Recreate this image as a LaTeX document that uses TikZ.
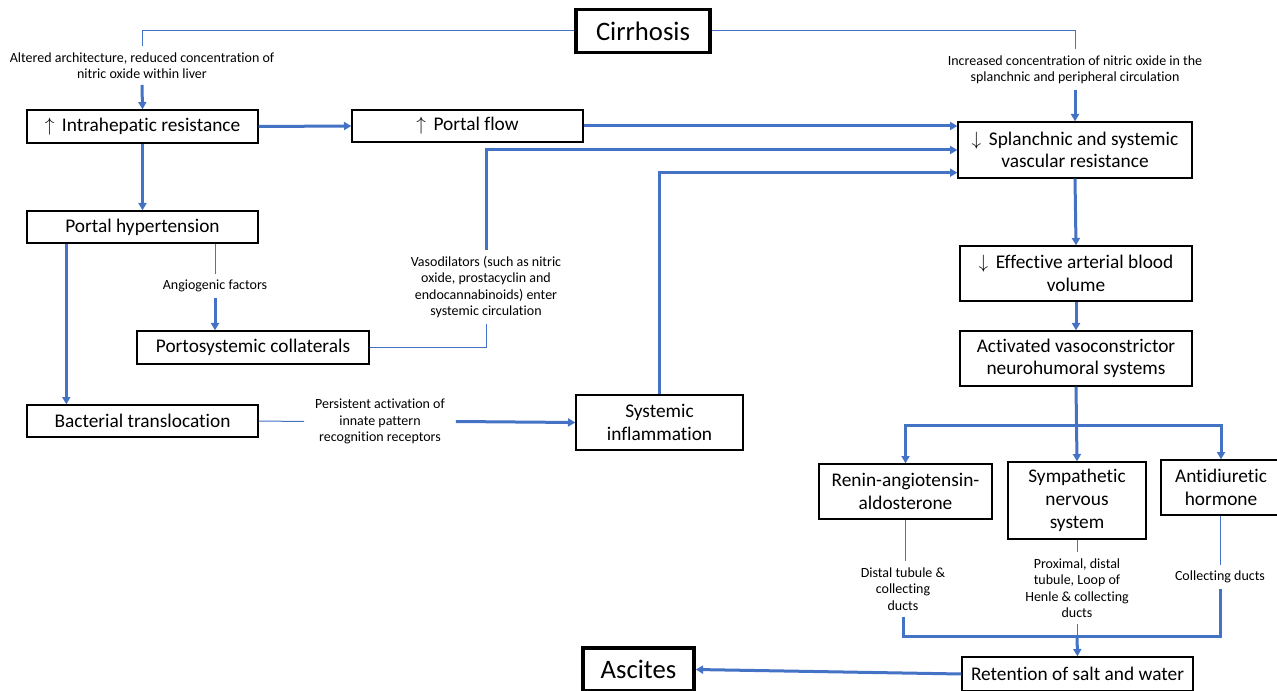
\documentclass[tikz,border=0pt]{standalone}
\usepackage{fontspec}
\setmainfont[Ligatures=NoCommon]{Carlito}
\usetikzlibrary{arrows.meta}
\definecolor{lineblue}{HTML}{4472C4}

\begin{document}
\begin{tikzpicture}[x=0.75pt, y=-0.75pt,
    box/.style 2 args={draw, line width=1pt, align=center, inner sep=0pt,
        minimum width=#1*0.75pt, minimum height=#2*0.75pt,
        font=\fontsize{14.5}{17}\selectfont},
    mainbox/.style 2 args={draw, line width=2.6pt, inner sep=0pt,
        minimum width=#1*0.75pt, minimum height=#2*0.75pt,
        font=\fontsize{20}{24}\selectfont},
    note/.style={align=center, inner sep=4.5pt, font=\fontsize{10.5}{12.3}\selectfont},
    link/.style={lineblue, line width=0.75pt},
    flow/.style={lineblue, line width=2.25pt, -{Triangle[length=5.5pt,width=6pt]}},
]
    \useasboundingbox (0,0) rectangle (1277,691);

    % Главные узлы
    \node[mainbox={134}{43}] (cirr) at (643,31) {Cirrhosis};
    \node[mainbox={111}{43}] (asc) at (638.5,669.5) {Ascites};

    % Левая ветвь
    \node[box={231}{33}] (intra) at (142.5,126.5) {$\uparrow$\, Intrahepatic resistance};
    \node[box={231}{32}] (portal) at (467.5,126) {$\uparrow$\, Portal flow};
    \node[box={231}{32}] (porthyp) at (142.5,227) {Portal hypertension};
    \node[box={232}{33}] (porto) at (253,347.5) {Portosystemic collaterals};
    \node[box={231}{32}] (bact) at (142.5,421) {Bacterial translocation};
    \node[box={167}{55}] (sysinf) at (659.5,422.5) {Systemic\\inflammation};

    % Правая ветвь
    \node[box={234}{56}] (splanch) at (1075,150) {$\downarrow$\, Splanchnic and systemic\\vascular resistance};
    \node[box={232}{55}] (eabv) at (1076,273.5) {$\downarrow$\, Effective arterial blood\\volume};
    \node[box={232}{55}] (avns) at (1076,358.5) {Activated vasoconstrictor\\neurohumoral systems};
    \node[box={173}{55}] (raa) at (905.5,491.5) {Renin-angiotensin-\\aldosterone};
    \node[box={138}{77}] (sns) at (1077,500.5) {Sympathetic\\nervous\\system};
    \node[box={120}{55}] (adh) at (1221,487.5) {Antidiuretic\\hormone};
    \node[box={231}{34}] (ret) at (1077.5,674) {Retention of salt and water};

    % Подписи
    \node[note] (lblA) at (142,65.5) {Altered architecture, reduced concentration of\\nitric oxide within liver};
    \node[note] (lblB) at (1075,69.5) {Increased concentration of nitric oxide in the\\splanchnic and peripheral circulation};
    \node[note] (lblAng) at (215,286) {Angiogenic factors};
    \node[note] (lblV) at (486,287) {Vasodilators (such as nitric\\oxide, prostacyclin and\\endocannabinoids) enter\\systemic circulation};
    \node[note, inner xsep=8pt] (lblP) at (380,421.5) {Persistent activation of\\innate pattern\\recognition receptors};
    \node[note] (lblD) at (903,589) {Distal tubule \&\\collecting\\ducts};
    \node[note] (lblS) at (1077,588) {Proximal, distal\\tubule, Loop of\\Henle \& collecting\\ducts};
    \node[note] (lblC) at (1220,577) {Collecting ducts};

    \coordinate (split) at (1076,425);
    \coordinate (join) at (1077,636);

    % Связи
    \draw[link] (cirr.west) -| (lblA.north);
    \draw[flow] (lblA.south) -- (intra.north);
    \draw[link] (cirr.east) -| (lblB.north);
    \draw[flow] (lblB.south) -- (splanch.north);

    \draw[flow] (intra.east) -- (portal.west);
    \draw[flow] (portal.east) -- (portal.east -| splanch.west);
    \draw[flow] (intra.south) -- (porthyp.north);
    \draw[link] (lblAng.north |- porthyp.south) -- (lblAng.north);
    \draw[flow] (lblAng.south) -- (lblAng.south |- porto.north);
    \draw[flow] ([xshift=30pt]porthyp.south west) -- ([xshift=30pt]bact.north west);

    \draw[link] (porto.east) -| (lblV.south);
    \draw[flow] (lblV.north) |- (splanch.west);
    \draw[link] (bact.east) -- (lblP.west);
    \draw[flow] (lblP.east) -- (sysinf.west);
    \draw[flow] (sysinf.north) |- ([yshift=4.5pt]splanch.south west);

    \draw[flow] (splanch.south) -- (eabv.north);
    \draw[flow] (eabv.south) -- (avns.north);
    \draw[flow] (avns.south) -- (sns.north);
    \draw[flow] (split) -| (raa.north);
    \draw[flow] (split) -| (adh.north);

    \draw[link] (raa.south) -- (raa.south |- lblD.north);
    \draw[link] (sns.south) -- (lblS.north);
    \draw[link] (adh.south -| lblC.north) -- (lblC.north);
    \draw[lineblue, line width=2.25pt] (lblD.south) |- (join) -| (lblC.south);
    \draw[link] (lblS.south) -- (join);
    \draw[flow] (join) -- (ret.north);
    \draw[flow] (ret.west) -- (asc.east);
\end{tikzpicture}
\end{document}
